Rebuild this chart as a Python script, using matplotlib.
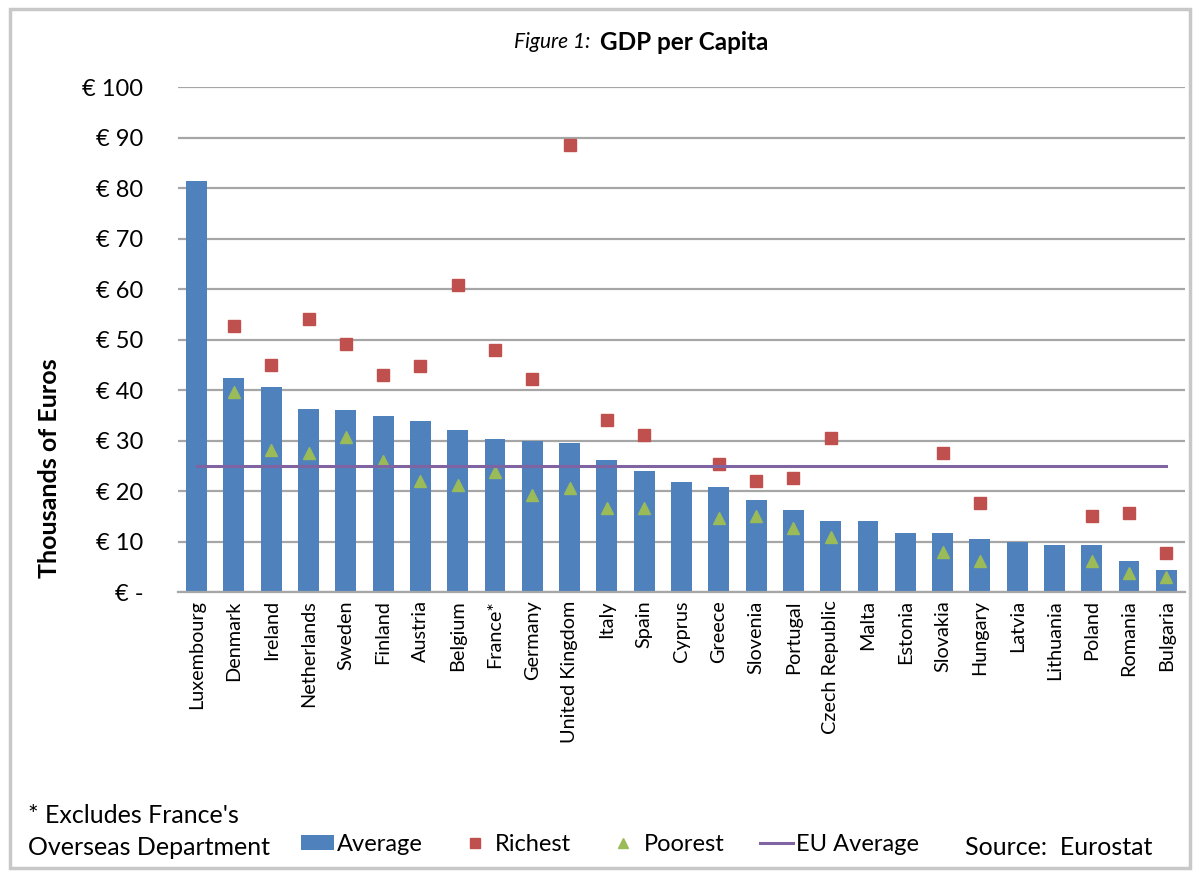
import matplotlib.pyplot as plt
import numpy as np
from matplotlib.patches import Rectangle

plt.rcParams['font.family'] = ['Lato', 'DejaVu Sans']

countries = ['Luxembourg', 'Denmark', 'Ireland', 'Netherlands', 'Sweden', 'Finland',
             'Austria', 'Belgium', 'France*', 'Germany', 'United Kingdom', 'Italy',
             'Spain', 'Cyprus', 'Greece', 'Slovenia', 'Portugal', 'Czech Republic',
             'Malta', 'Estonia', 'Slovakia', 'Hungary', 'Latvia', 'Lithuania',
             'Poland', 'Romania', 'Bulgaria']
average = [81.4, 42.4, 40.5, 36.3, 36.1, 34.8, 33.9, 32.1, 30.3, 29.9, 29.6, 26.1,
           23.9, 21.7, 20.8, 18.3, 16.3, 14.0, 14.0, 11.7, 11.7, 10.4, 10.0, 9.4,
           9.4, 6.2, 4.4]
# None where the country has no regional split
richest = [None, 52.6, 45.0, 54.0, 49.2, 42.9, 44.7, 60.8, 48.0, 42.2, 88.6, 34.0,
           31.0, None, 25.4, 22.0, 22.5, 30.4, None, None, 27.6, 17.6, None, None,
           15.0, 15.7, 7.8]
poorest = [None, 39.7, 28.1, 27.6, 30.6, 26.0, 21.9, 21.1, 23.8, 19.3, 20.6, 16.6,
           16.6, None, 14.7, 15.1, 12.7, 10.8, None, None, 8.0, 6.2, None, None,
           6.2, 3.7, 2.9]
eu_average = 25.0
yticks = [0, 10, 20, 30, 40, 50, 60, 70, 80, 90, 100]
ytick_labels = ['€ -'] + ['€ %d' % v for v in yticks[1:]]

blue = '#4F81BD'
red = '#C0504D'
green = '#9BBB59'
purple = '#8064A2'

x = np.arange(len(countries))
rich = np.array([np.nan if v is None else v for v in richest])
poor = np.array([np.nan if v is None else v for v in poorest])

fig = plt.figure(figsize=(12, 8.72), dpi=100)
fig.patches.append(Rectangle((0.008, 0.005), 0.984, 0.985, transform=fig.transFigure,
                             fill=False, edgecolor='#c8c8c8', linewidth=2.5))
ax = fig.add_axes([0.1483, 0.3211, 0.8392, 0.5791])

ax.set_axisbelow(True)
ax.yaxis.grid(True, color='#a6a6a6', linewidth=1.6)
ax.bar(x, average, width=0.56, color=blue, label='Average', zorder=2)
ax.plot(x, rich, 's', color=red, markersize=9, label='Richest', zorder=3)
ax.plot(x, poor, '^', color=green, markersize=9, label='Poorest', zorder=3)
ax.plot(x, [eu_average] * len(x), color=purple, linewidth=2.2, label='EU Average', zorder=3)

ax.set_xlim(-0.5, len(x) - 0.5)
ax.set_ylim(0, 100)
ax.set_yticks(yticks)
ax.set_yticklabels(ytick_labels, fontsize=17)
ax.set_xticks(x)
ax.set_xticklabels(countries, rotation=90, fontsize=14.3)
ax.tick_params(axis='y', length=0, pad=25)
ax.tick_params(axis='x', length=0, pad=6)
for s in ['top', 'right', 'left']:
    ax.spines[s].set_visible(False)
ax.spines['bottom'].set_color('#a6a6a6')
ax.spines['bottom'].set_linewidth(1.6)

fig.text(50 / 1200, 1 - 468 / 872, 'Thousands of Euros', fontsize=18, fontweight='bold',
         rotation=90, ha='center', va='center')

fig.text(590 / 1200, 1 - 42 / 872, 'Figure 1:', fontsize=15, style='italic', ha='right', va='center')
fig.text(600 / 1200, 1 - 42 / 872, 'GDP per Capita', fontsize=17.5, fontweight='bold', ha='left', va='center')

fig.text(28 / 1200, 1 - 815 / 872, "* Excludes France's", fontsize=18, va='center')
fig.text(28 / 1200, 1 - 847 / 872, 'Overseas Department', fontsize=18, va='center')
fig.text(965 / 1200, 1 - 847 / 872, 'Source:  Eurostat', fontsize=18, va='center')

handles, labels = ax.get_legend_handles_labels()
order = [labels.index(n) for n in ['Average', 'Richest', 'Poorest', 'EU Average']]
fig.legend([handles[i] for i in order], [labels[i] for i in order],
           loc='center', bbox_to_anchor=(610 / 1200, 1 - 844 / 872), ncol=4,
           frameon=False, fontsize=17, handlelength=1.4, handletextpad=0.15,
           handleheight=0.6, columnspacing=1.5, markerscale=0.75)

fig.savefig('out.png', dpi=100)
